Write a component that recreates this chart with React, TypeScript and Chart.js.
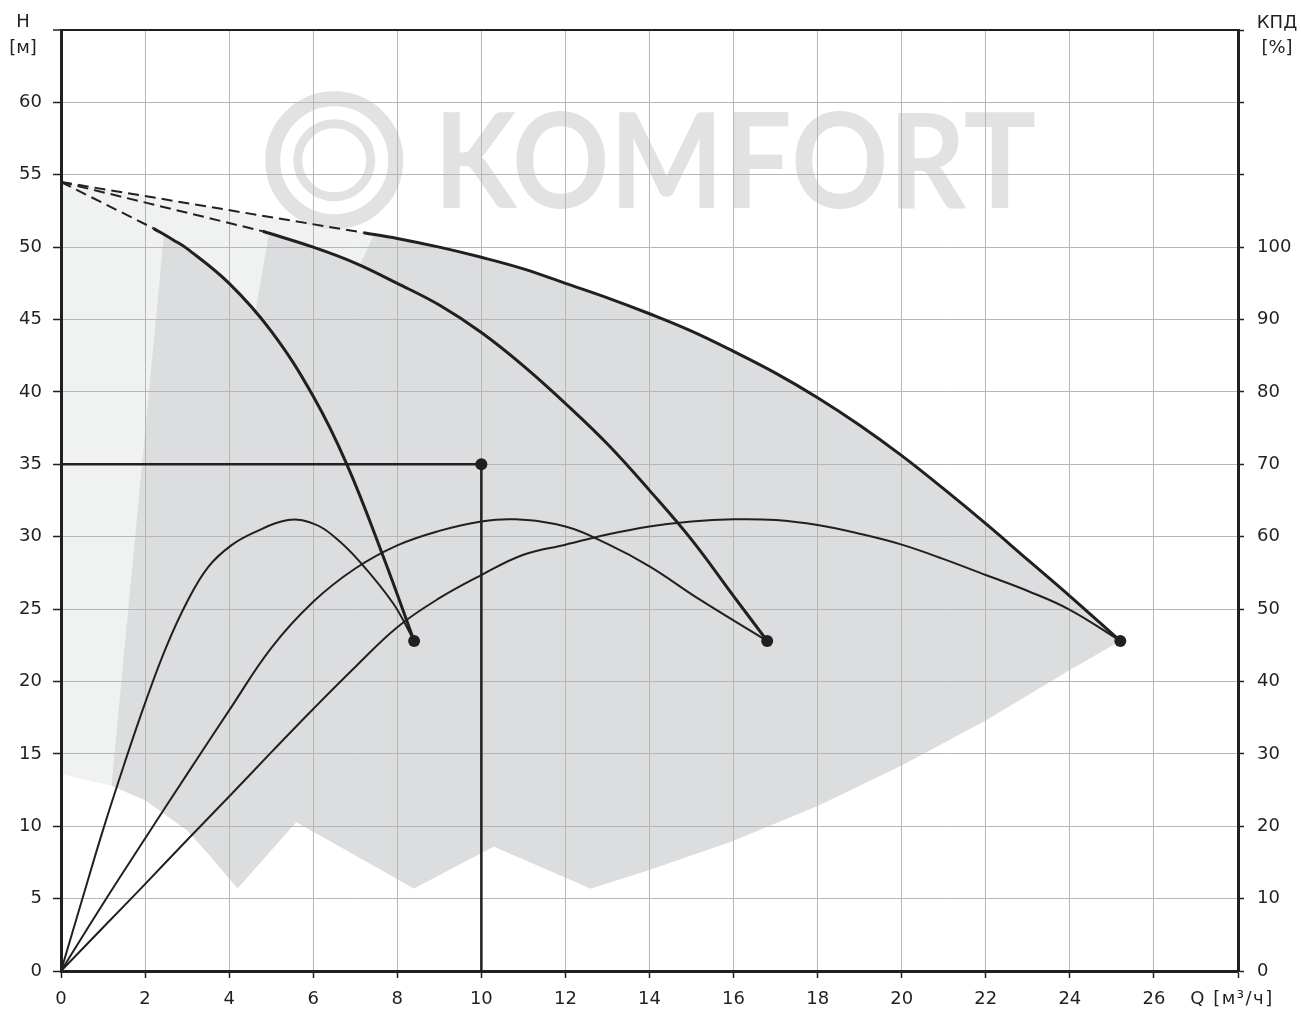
import React, { useEffect, useRef } from 'react';
import { Chart, registerables } from 'chart.js';

Chart.register(...registerables);

type P = [number, number];

// Q [m3/h] axis ticks 0..28 (labels to 26), H [m] 0..65 (labels to 60), efficiency 0..130 (labels to 100)
const xTicksMax = 26;
const yTicksMax = 60;
const y2TicksMax = 100;

// Pump head curves (Q, H)
const headCurve1: P[] = [[2.2, 51.3], [2.67, 50.5], [3, 49.9], [4, 47.5], [5, 44.2], [6, 39.7], [6.8, 35.0], [7.67, 28.6], [8.4, 22.8]];
const headCurve2: P[] = [[4.8, 51.1], [6, 50.0], [7, 48.9], [8, 47.5], [9, 46.0], [10, 44.1], [11, 41.8], [12, 39.2], [13, 36.4], [14, 33.2], [15, 29.8], [16, 25.9], [16.8, 22.8]];
const headCurve3: P[] = [[7.2, 51.0], [8, 50.6], [9, 50.0], [10, 49.3], [11, 48.5], [12, 47.5], [13, 46.5], [14, 45.4], [15, 44.2], [16, 42.8], [17, 41.3], [18, 39.6], [19, 37.7], [20, 35.6], [21, 33.3], [22, 30.9], [23, 28.4], [24, 25.9], [25.2, 22.8]];

// Dashed extensions to shut-off head
const shutOff: P = [0, 54.5];

// Efficiency curves (Q, %)
const eff1: P[] = [[0, 0], [0.5, 9.8], [1, 19.5], [1.5, 28.5], [2, 37.0], [2.5, 44.7], [3, 51.0], [3.5, 55.8], [4.05, 58.8], [4.6, 60.6], [5.4, 62.3], [6, 61.8], [6.5, 60.0], [7.1, 56.6], [7.9, 50.8], [8.4, 45.6]];
const eff2: P[] = [[0, 0], [1, 9.3], [2, 18.3], [3, 27.2], [4, 36.0], [5, 44.6], [6, 51.0], [7, 55.6], [8, 58.8], [9, 60.8], [10, 62.1], [10.8, 62.4], [12, 61.4], [13, 59.0], [14, 55.9], [15.2, 51.3], [16.8, 45.6]];
const eff3: P[] = [[0, 0], [1, 6], [2, 12], [3, 18.1], [4, 24.1], [5, 30.2], [6, 36.2], [7, 42.0], [8, 47.5], [9, 51.5], [10, 54.7], [11, 57.5], [12, 58.9], [13, 60.3], [14, 61.4], [15, 62.1], [16, 62.4], [17, 62.3], [18, 61.6], [19, 60.4], [20, 58.9], [21, 56.9], [22, 54.7], [23, 52.5], [24, 49.9], [25.2, 45.6]];

// Curve end points and duty point
const endPoints: P[] = [[8.4, 22.8], [16.8, 22.8], [25.2, 22.8]];
const dutyPoint: P = [10, 35];

// Operating-range shading
const lowerBoundary: P[] = [[0, 13.6], [1.2, 12.8], [2, 11.8], [3, 9.7], [3.5, 8.1], [4.2, 5.7], [5.6, 10.3], [8.4, 5.7], [10.3, 8.6], [12.6, 5.7], [14, 7.0], [16, 9.0], [18, 11.4], [20, 14.2], [22, 17.3], [24, 20.8], [25.2, 22.8]];
const edge1: P[] = [[1.2, 12.8], [2.45, 50.9]];
const edge2: P[] = [[4.0, 35], [4.95, 51.0]];
const edge3: P[] = [[6.5, 45], [7.45, 50.9]];

const INK = '#231f20';
const DARK = 'rgb(220,221,223)';
const LIGHT = 'rgb(240,241,241)';
const GRID = 'rgb(182,182,182)';
const FONT = "'DejaVu Sans', Verdana, sans-serif";

const xy = (pts: P[]) => pts.map(([x, y]) => ({ x, y }));

const region1: P[] = [
  ...edge1,
  ...headCurve1.filter(([q]) => q > edge1[1][0]),
  ...lowerBoundary.filter(([q]) => q > edge1[0][0] && q <= 8.4).reverse(),
];
const region2: P[] = [
  ...edge2,
  ...headCurve2.filter(([q]) => q > edge2[1][0]),
  ...lowerBoundary.filter(([q]) => q >= 5.6 && q <= 16.8).reverse(),
];
const region3: P[] = [
  ...edge3,
  ...headCurve3.filter(([q]) => q > edge3[1][0]),
  ...lowerBoundary.filter(([q]) => q >= 10.3).reverse(),
];
const regionLight: P[] = [
  shutOff,
  headCurve3[0],
  edge3[1],
  edge3[0],
  edge1[0],
  ...lowerBoundary.filter(([q]) => q < edge1[0][0]).reverse(),
];

const fillDs = (pts: P[], color: string) => ({
  data: xy(pts),
  fill: 'shape',
  backgroundColor: color,
  borderColor: 'rgba(0,0,0,0)',
  borderWidth: 0,
  pointRadius: 0,
  tension: 0,
  yAxisID: 'y',
});

const curveDs = (pts: P[], width: number, axis: string) => ({
  data: xy(pts),
  borderColor: INK,
  borderWidth: width,
  pointRadius: 0,
  fill: false,
  tension: 0.4,
  yAxisID: axis,
});

const dashDs = (end: P) => ({
  data: xy([shutOff, end]),
  borderColor: INK,
  borderWidth: 2,
  borderDash: [11, 6],
  pointRadius: 0,
  fill: false,
  tension: 0,
  yAxisID: 'y',
});

const decorPlugin = {
  id: 'decor',
  beforeDraw(chart: any) {
    const { ctx, scales } = chart;
    const x = scales.x;
    const y = scales.y;
    ctx.save();
    ctx.fillStyle = 'rgb(226,226,226)';
    ctx.strokeStyle = 'rgb(226,226,226)';
    const cx = x.getPixelForValue(6.5);
    const cy = y.getPixelForValue(56.0);
    ctx.lineWidth = 15;
    ctx.beginPath();
    ctx.arc(cx, cy, 61.5, 0, Math.PI * 2);
    ctx.stroke();
    ctx.lineWidth = 9;
    ctx.beginPath();
    ctx.arc(cx, cy, 36.5, 0, Math.PI * 2);
    ctx.stroke();
    const tx0 = x.getPixelForValue(8.87);
    const tx1 = x.getPixelForValue(23.2);
    ctx.font = `bold 132px Lato, 'Open Sans', sans-serif`;
    ctx.textAlign = 'left';
    ctx.textBaseline = 'alphabetic';
    ctx.fillText('KOMFORT', tx0, y.getPixelForValue(52.7), tx1 - tx0);
    ctx.restore();
  },
  afterDraw(chart: any) {
    const { ctx, chartArea } = chart;
    ctx.save();
    ctx.fillStyle = INK;
    ctx.font = `18px ${FONT}`;
    ctx.textAlign = 'center';
    ctx.textBaseline = 'middle';
    ctx.fillText('H', chartArea.left - 38, 22);
    ctx.fillText('[м]', chartArea.left - 38, 48);
    ctx.fillText('КПД', chartArea.right + 39, 23);
    ctx.fillText('[%]', chartArea.right + 39, 48);
    try { (ctx as any).letterSpacing = '1.5px'; } catch (e) { /* ignore */ }
    ctx.fillText('Q [м³/ч]', chartArea.right - 6, chartArea.bottom + 28);
    ctx.restore();
  },
};

export default function App() {
  const ref = useRef<HTMLCanvasElement | null>(null);

  useEffect(() => {
    if (!ref.current) return;
    const chart = new Chart(ref.current, {
      type: 'line',
      data: {
        datasets: [
          curveDs(headCurve1, 3, 'y'),
          curveDs(headCurve2, 3, 'y'),
          curveDs(headCurve3, 3, 'y'),
          dashDs(headCurve1[0]),
          dashDs(headCurve2[0]),
          dashDs(headCurve3[0]),
          curveDs(eff1, 2, 'y2'),
          curveDs(eff2, 2, 'y2'),
          curveDs(eff3, 2, 'y2'),
          {
            data: xy([[0, dutyPoint[1]], dutyPoint, [dutyPoint[0], 0]]),
            borderColor: INK,
            borderWidth: 2.5,
            pointRadius: 0,
            fill: false,
            tension: 0,
            yAxisID: 'y',
          },
          {
            data: xy([...endPoints, dutyPoint]),
            showLine: false,
            pointRadius: 6,
            pointBackgroundColor: INK,
            pointBorderColor: INK,
            pointBorderWidth: 0,
            yAxisID: 'y',
          },
          // fills (filler draws in reverse order: light first)
          fillDs(region1, DARK),
          fillDs(region2, DARK),
          fillDs(region3, DARK),
          fillDs(regionLight, LIGHT),
        ] as any,
      },
      options: {
        animation: false,
        responsive: false,
        events: [],
        layout: { padding: { top: 30, left: 0, right: 0, bottom: 0 } },
        plugins: {
          legend: { display: false },
          tooltip: { enabled: false },
          filler: { drawTime: 'beforeDraw' } as any,
        },
        scales: {
          x: {
            type: 'linear',
            min: 0,
            max: 28,
            afterFit: (s: any) => { s.height = 38; },
            grid: {
              color: GRID,
              lineWidth: 1,
              tickLength: 7,
              tickColor: INK,
              tickWidth: 1.5,
            },
            border: { color: INK, width: 3 },
            ticks: {
              stepSize: 2,
              padding: 11,
              color: INK,
              font: { family: FONT, size: 18 },
              maxRotation: 0,
              autoSkip: false,
              callback: (v: any) => (v <= xTicksMax ? String(v) : ''),
            },
          },
          y: {
            type: 'linear',
            position: 'left',
            min: 0,
            max: 65,
            afterFit: (s: any) => { s.width = 61; },
            grid: {
              color: (c: any) => (c.tick && c.tick.value === 65 ? INK : GRID),
              lineWidth: (c: any) => (c.tick && c.tick.value === 65 ? 2 : 1),
              tickLength: 8,
              tickColor: INK,
              tickWidth: 1.5,
            },
            border: { color: INK, width: 3 },
            ticks: {
              stepSize: 5,
              padding: 11,
              color: INK,
              font: { family: FONT, size: 18 },
              autoSkip: false,
              callback: (v: any) => (v <= yTicksMax ? String(v) : ''),
            },
          },
          y2: {
            type: 'linear',
            position: 'right',
            min: 0,
            max: 130,
            afterFit: (s: any) => { s.width = 63; },
            grid: {
              drawOnChartArea: false,
              tickLength: 6,
              tickColor: INK,
              tickWidth: 1.5,
            },
            border: { color: INK, width: 3 },
            ticks: {
              stepSize: 10,
              padding: 13,
              color: INK,
              font: { family: FONT, size: 18 },
              autoSkip: false,
              callback: (v: any) => (v <= y2TicksMax ? String(v) : ''),
            },
          },
        },
      },
      plugins: [decorPlugin],
    });
    return () => chart.destroy();
  }, []);

  return (
    <div style={{ position: 'absolute', left: 0, top: 0, width: 1301, height: 1009, background: '#fff' }}>
      <canvas ref={ref} width={1301} height={1009} style={{ display: 'block', width: 1301, height: 1009 }} />
    </div>
  );
}
